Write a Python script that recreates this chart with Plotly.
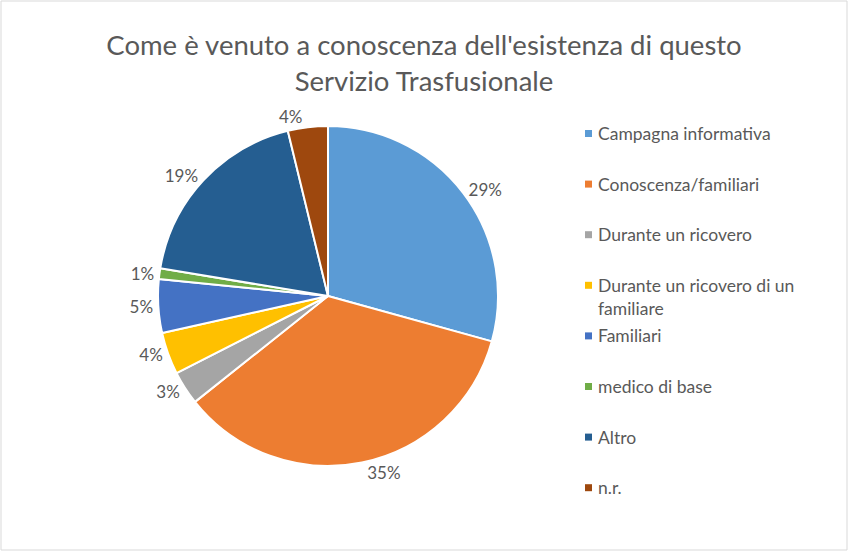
import textwrap
import plotly.graph_objects as go

categories = ["Campagna informativa", "Conoscenza/familiari", "Durante un ricovero",
              "Durante un ricovero di un familiare", "Familiari", "medico di base",
              "Altro", "n.r."]
values = [29.3, 35.0, 3.2, 4.0, 5.1, 1.0, 18.6, 3.8]
colors = ["#5B9BD5", "#ED7D31", "#A5A5A5", "#FFC000", "#4472C4", "#70AD47", "#255E91", "#9E480E"]
title_lines = ["Come è venuto a conoscenza dell'esistenza di questo", "Servizio Trasfusionale"]

W, H = 849, 552
FONT = "Lato"
GREY = "#595959"

cx, cy, r = 328, 296, 170

fig = go.Figure()
fig.add_trace(go.Pie(
    labels=categories, values=values, sort=False, direction="clockwise", rotation=0,
    marker=dict(colors=colors, line=dict(color="white", width=2)),
    texttemplate="%{percent:.0%}", textposition="outside",
    outsidetextfont=dict(family=FONT, size=17, color=GREY),
    domain=dict(x=[(cx - r) / W, (cx + r) / W], y=[1 - (cy + r) / H, 1 - (cy - r) / H]),
    showlegend=False, hoverinfo="label+percent",
))

# manual legend (Excel-like spacing)
shapes = []
annotations = []
y0, step = 133, 50.6
for i, (cat, col) in enumerate(zip(categories, colors)):
    yc = y0 + i * step
    shapes.append(dict(type="rect", xref="paper", yref="paper",
                       x0=585 / W, x1=592 / W, y0=1 - (yc + 4) / H, y1=1 - (yc - 3) / H,
                       fillcolor=col, line=dict(width=0)))
    text = "<br>".join(textwrap.wrap(cat, 26))
    annotations.append(dict(xref="paper", yref="paper", x=596 / W, y=1 - (yc - 12) / H,
                            xanchor="left", yanchor="top", align="left", showarrow=False,
                            text=text, font=dict(family=FONT, size=17.5, color=GREY)))

# chart border
shapes.append(dict(type="rect", xref="paper", yref="paper",
                   x0=1 / W, x1=847 / W, y0=1 - 550 / H, y1=1 - 1 / H,
                   line=dict(color="#D9D9D9", width=1), fillcolor="rgba(0,0,0,0)"))

fig.update_layout(
    width=W, height=H, margin=dict(l=0, r=0, t=0, b=0),
    paper_bgcolor="white", plot_bgcolor="white",
    title=dict(text="<br>".join(title_lines), x=424 / W, xanchor="center",
               y=1 - 55 / H, yanchor="top", yref="container",
               font=dict(family=FONT, size=27.5, color=GREY)),
    shapes=shapes, annotations=annotations,
)

fig.write_html("out.html")
